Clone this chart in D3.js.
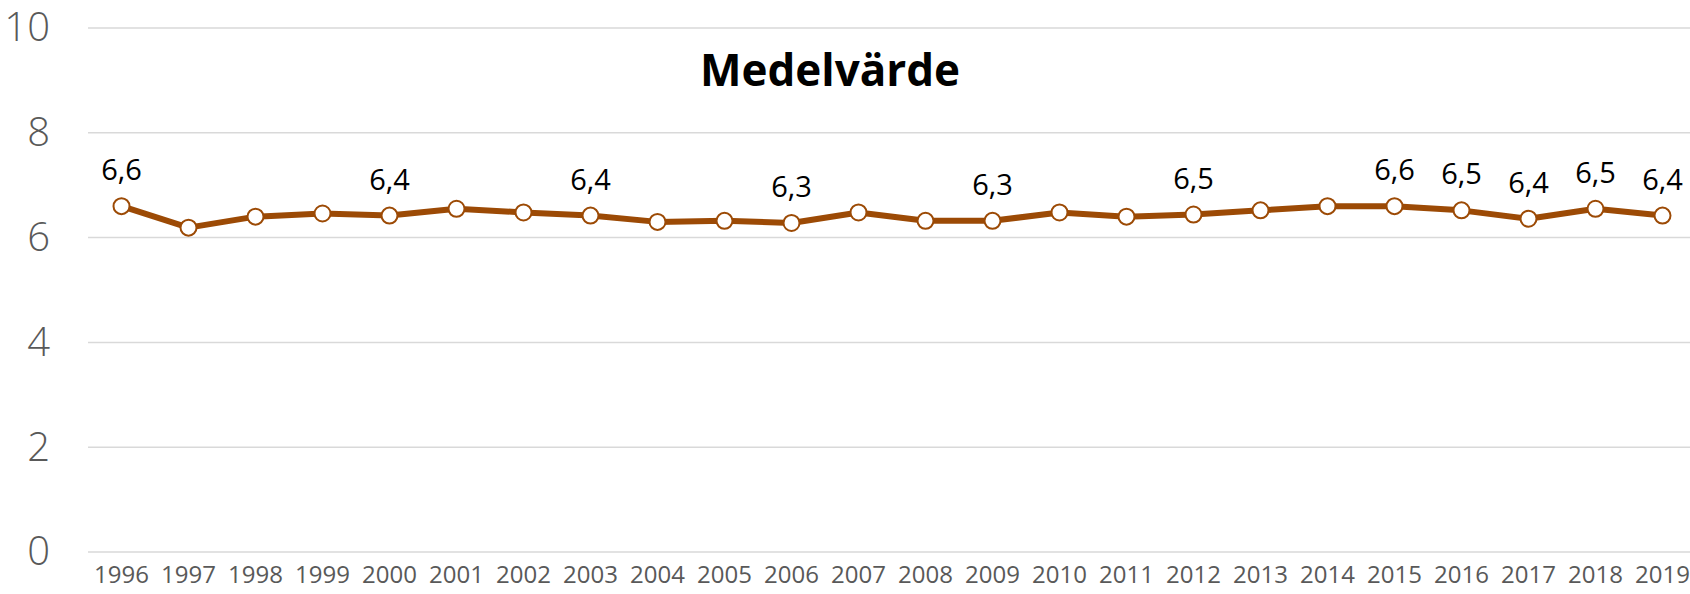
<!DOCTYPE html>
<html>
<head>
<meta charset="utf-8">
<script src="https://cdn.jsdelivr.net/npm/d3@7"></script>
<style>
  body { margin: 0; background: #fff; }
  text { font-family: "Open Sans", sans-serif; }
</style>
</head>
<body>
<div id="chart"></div>
<script>
// data
var years = ["1996","1997","1998","1999","2000","2001","2002","2003","2004","2005","2006","2007",
             "2008","2009","2010","2011","2012","2013","2014","2015","2016","2017","2018","2019"];
var values = [6.60, 6.19, 6.40, 6.46, 6.42, 6.55, 6.48, 6.42, 6.30, 6.32, 6.28, 6.48,
              6.32, 6.32, 6.48, 6.40, 6.44, 6.52, 6.60, 6.60, 6.52, 6.36, 6.55, 6.42];
// only some points carry a label
var labels = ["6,6", "", "", "", "6,4", "", "", "6,4", "", "", "6,3", "",
              "", "6,3", "", "", "6,5", "", "", "6,6", "6,5", "6,4", "6,5", "6,4"];
var yTicks = [0, 2, 4, 6, 8, 10];
var title = "Medelvärde";

var svgWidth = 1690;
var svgHeight = 594;

var margin = { top: 28, right: -6, bottom: 42, left: 88 };
var width = svgWidth - margin.left - margin.right;
var height = svgHeight - margin.top - margin.bottom;

var lineColor = "#9c4a05";

var svg = d3.select("#chart")
    .append("svg")
    .attr("width", svgWidth)
    .attr("height", svgHeight);

var chart = svg.append("g")
    .attr("transform", `translate(${margin.left}, ${margin.top})`);

var x = d3.scaleBand().domain(years).range([0, width]).padding(0);
var y = d3.scaleLinear().domain([0, 10]).range([height, 0]);

// gridlines
chart.append("g")
    .selectAll("line")
    .data(yTicks)
    .enter()
    .append("line")
    .attr("x1", 0)
    .attr("x2", width)
    .attr("y1", d => y(d))
    .attr("y2", d => y(d))
    .attr("stroke", "#d9d9d9")
    .attr("stroke-width", 1.5);

// y axis labels
var leftAxis = d3.axisLeft(y).tickValues(yTicks).tickSize(0).tickPadding(38);
var yAxis = chart.append("g").call(leftAxis);
yAxis.select(".domain").remove();
yAxis.selectAll("text")
    .attr("font-family", "Open Sans, sans-serif")
    .attr("font-size", 40)
    .attr("font-weight", 300)
    .attr("fill", "#595959");

// x axis labels
var bottomAxis = d3.axisBottom(x).tickSize(0).tickPadding(14);
var xAxis = chart.append("g")
    .attr("transform", `translate(0, ${height})`)
    .call(bottomAxis);
xAxis.select(".domain").remove();
xAxis.selectAll("text")
    .attr("font-family", "Open Sans, sans-serif")
    .attr("font-size", 24)
    .attr("fill", "#595959");

var cx = function(d, i) { return x(years[i]) + x.bandwidth() / 2; };

// line
var line = d3.line()
    .x((d, i) => cx(d, i))
    .y(d => y(d));

chart.append("path")
    .datum(values)
    .attr("d", line)
    .attr("fill", "none")
    .attr("stroke", lineColor)
    .attr("stroke-width", 6)
    .attr("stroke-linejoin", "round");

// markers
chart.append("g")
    .selectAll("circle")
    .data(values)
    .enter()
    .append("circle")
    .attr("cx", (d, i) => cx(d, i))
    .attr("cy", d => y(d))
    .attr("r", 8)
    .attr("fill", "#fff")
    .attr("stroke", lineColor)
    .attr("stroke-width", 2);

// data labels
chart.append("g")
    .selectAll("text")
    .data(values)
    .enter()
    .append("text")
    .attr("x", (d, i) => cx(d, i))
    .attr("y", d => y(d) - 26)
    .attr("text-anchor", "middle")
    .attr("font-size", 29)
    .attr("fill", "#000")
    .text((d, i) => labels[i]);

// title
svg.append("text")
    .attr("x", 830)
    .attr("y", 86)
    .attr("text-anchor", "middle")
    .attr("font-size", 44)
    .attr("font-weight", "bold")
    .attr("fill", "#000")
    .text(title);
</script>
</body>
</html>
